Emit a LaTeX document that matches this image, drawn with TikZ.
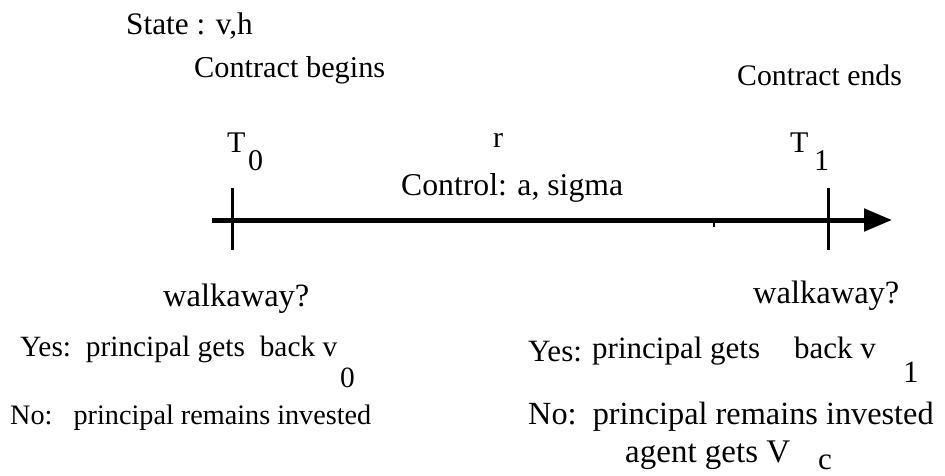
\documentclass[tikz,border=0pt]{standalone}
\usepackage{fontspec}
\setmainfont{Liberation Serif}
\usetikzlibrary{arrows.meta}
\begin{document}
\begin{tikzpicture}[x=1pt,y=-1pt,
  lbl/.style={inner sep=0pt,anchor=base west,font=\fontsize{#1}{#1}\selectfont},
  lbl/.default=30,
  tickline/.style={line width=3pt},
  axisline/.style={line width=5pt,-{Triangle[length=28pt,width=22pt]}}]
\useasboundingbox (0,0) rectangle (945,476);
\node[lbl=31.3] (state) at (126,35) {State : v,h};
\node[lbl=30.3] (cb) at (194,78) {Contract begins};
\node[lbl=29.8] (ce) at (737,86) {Contract ends};
\node[lbl] (t0) at (227,153) {T};
\node[lbl] (t0s) at (248,171) {0};
\node[lbl] (r) at (493,148) {r};
\node[lbl=31.7] (ctrl) at (401,195) {Control: a, sigma};
\node[lbl] (t1) at (790,153) {T};
\node[lbl] (t1s) at (814,171) {1};
\coordinate (a0) at (212,220);
\coordinate (a1) at (892,220);
\draw[axisline] (a0) -- (a1);
\coordinate (k0a) at (232,188); \coordinate (k0b) at (232,250);
\coordinate (k1a) at (828,188); \coordinate (k1b) at (828,250);
\draw[tickline] (k0a) -- (k0b);
\draw[tickline] (k1a) -- (k1b);
\coordinate (ma) at (714,220); \coordinate (mb) at (714,227);
\draw[line width=1.5pt] (ma) -- (mb);
\node[lbl=32.5] (w0) at (163,306) {walkaway?};
\node[lbl=32.5] (w1) at (753,303) {walkaway?};
\node[lbl=29.4] (y0) at (20,356) {Yes:\ \ principal gets\ \ back v};
\node[lbl=29.4] (y0s) at (340,387) {0};
\node[lbl=31] (y1a) at (528,361) {Yes:};
\node[lbl=31] (y1b) at (592,358) {principal gets};
\node[lbl=31] (y1c) at (794,358) {back v};
\node[lbl=31] (y1s) at (903,382) {1};
\node[lbl=28.2] (n0) at (10,424) {No:\ \ \ principal remains invested};
\node[lbl=32.3] (n1) at (528,424) {No:\ \ principal remains invested};
\node[lbl=33] (ag) at (625,462) {agent gets V};
\node[lbl=31] (ags) at (818,469) {c};
\end{tikzpicture}
\end{document}
